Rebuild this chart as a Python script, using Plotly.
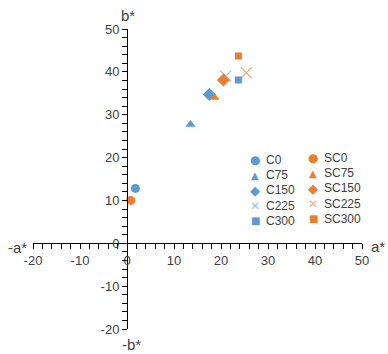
import plotly.graph_objects as go

names_c = ["C0", "C75", "C150", "C225", "C300"]
names_sc = ["SC0", "SC75", "SC150", "SC225", "SC300"]
a_c = [1.8, 13.5, 17.5, 21.0, 23.7]
b_c = [12.8, 27.7, 34.7, 39.0, 38.1]
a_sc = [0.8, 18.6, 20.5, 25.4, 23.7]
b_sc = [10.0, 34.0, 38.1, 39.8, 43.7]
x_ticks = [-20, -10, 0, 10, 20, 30, 40, 50]
y_ticks = [-20, -10, 0, 10, 20, 30, 40, 50]

BLUE = "#5B9BD5"
ORANGE = "#ED7D31"
symbols = ["circle", "triangle-up", "diamond", "x-thin", "square"]
sizes = [9, 9, 10, 11, 7]
glyphs = ["●", "▲", "◆", "✕", "■"]
glyph_sizes = [12, 10, 13, 12, 10]

fig = go.Figure()
for names, xs, ys, col in [(names_c, a_c, b_c, BLUE), (names_sc, a_sc, b_sc, ORANGE)]:
    for i, n in enumerate(names):
        m = dict(symbol=symbols[i], size=sizes[i], color=col)
        if symbols[i] == "x-thin":
            m["line"] = dict(color=col, width=1.2)
            m["opacity"] = 0.6
        fig.add_trace(go.Scatter(x=[xs[i]], y=[ys[i]], mode="markers", name=n,
                                 marker=m, showlegend=False))

W, H = 388, 354
# plot area in page pixels: x 33..362, y 29..329
L, T = 33, 29
pw, ph = 329, 300
R, B = W - L - pw, H - T - ph

def px(xp):
    return (xp - L) / pw

def py(yp):
    return (T + ph - yp) / ph

ann = []
txt_font = dict(family="Liberation Sans, Arial", size=12, color="#404040")
for names, col, mx, tx, y0 in [(names_c, BLUE, 255, 264, 160),
                               (names_sc, ORANGE, 313, 322, 158)]:
    for i, n in enumerate(names):
        yy = y0 + i * 15.2
        ann.append(dict(x=px(mx), y=py(yy), xref="paper", yref="paper", text=glyphs[i],
                        showarrow=False, xanchor="center", yanchor="middle",
                        font=dict(family="DejaVu Sans", size=glyph_sizes[i], color=col),
                        opacity=0.6 if i == 3 else 1))
        ann.append(dict(x=px(tx), y=py(yy), xref="paper", yref="paper", text=n,
                        showarrow=False, xanchor="left", yanchor="middle", font=txt_font))

title_font = dict(family="Liberation Sans, Arial", size=15, color="#404040")
for t, xp, yp in [("b*", 128, 15), ("-b*", 131, 344), ("-a*", 17, 247), ("a*", 378, 246)]:
    ann.append(dict(x=px(xp), y=py(yp), xref="paper", yref="paper", text=t,
                    showarrow=False, xanchor="center", yanchor="middle", font=title_font))

axis_common = dict(showgrid=False, zeroline=False, showline=True, linecolor="#000000",
                   linewidth=1, ticks="outside", ticklen=5, tickcolor="#000000",
                   tickfont=dict(family="Liberation Sans, Arial", size=13, color="#404040"),
                   minor=dict(ticks="outside", dtick=2, ticklen=5, tickcolor="#000000"),
                   range=[-20, 50], fixedrange=True, automargin=False)

fig.update_layout(
    width=W, height=H, margin=dict(l=L, r=R, t=T, b=B, autoexpand=False),
    paper_bgcolor="white", plot_bgcolor="white",
    xaxis=dict(**axis_common, tickvals=x_ticks, ticktext=[str(v) for v in x_ticks],
               anchor="free", position=20 / 70),
    yaxis=dict(**axis_common, tickvals=y_ticks, ticktext=[str(v) for v in y_ticks],
               anchor="free", position=20 / 70),
    annotations=ann,
    showlegend=False,
)
fig.write_html("out.html", config={"displayModeBar": False},
               post_script="document.body.style.margin='0';document.body.style.overflow='hidden';")
